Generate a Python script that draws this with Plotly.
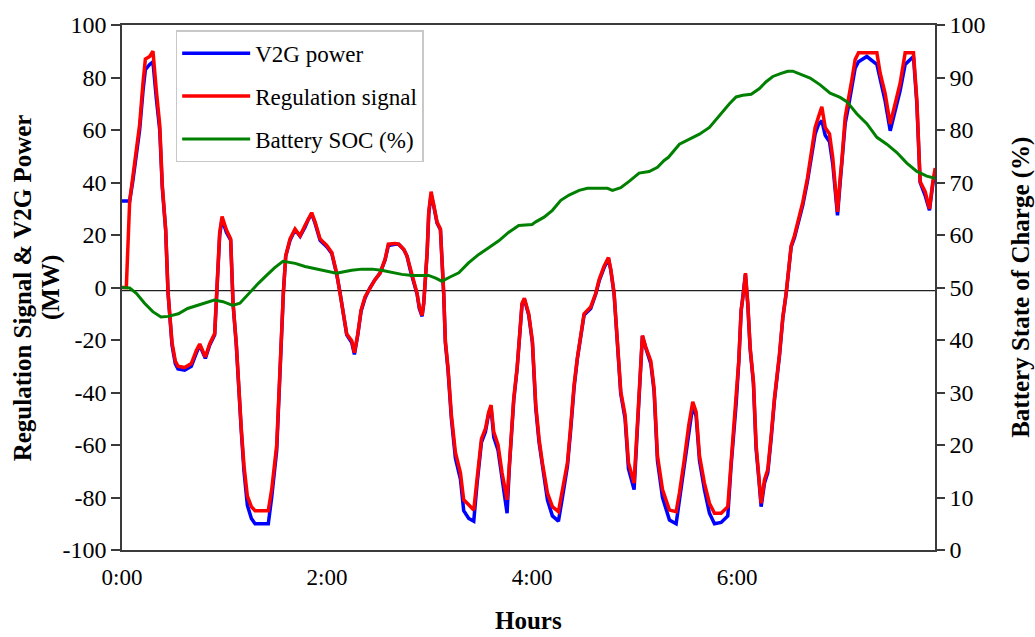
import plotly.graph_objects as go

# ---- data (hours, MW) ----
hours = [0.000, 0.042, 0.075, 0.107, 0.140, 0.172, 0.205, 0.228, 0.270, 0.302, 0.335, 0.368, 0.393, 0.426,
         0.449, 0.465, 0.488, 0.520, 0.546, 0.611, 0.676, 0.725, 0.758, 0.813, 0.855, 0.904, 0.920, 0.953,
         0.976, 1.018, 1.060, 1.083, 1.115, 1.141, 1.164, 1.190, 1.223, 1.262, 1.298, 1.427, 1.460, 1.509,
         1.541, 1.574, 1.597, 1.639, 1.688, 1.737, 1.785, 1.818, 1.850, 1.883, 1.932, 1.997, 2.046, 2.094,
         2.127, 2.159, 2.192, 2.241, 2.267, 2.300, 2.332, 2.371, 2.420, 2.468, 2.517, 2.566, 2.598, 2.663,
         2.699, 2.748, 2.780, 2.813, 2.846, 2.878, 2.900, 2.927, 2.943, 2.959, 2.976, 2.992, 3.015, 3.041,
         3.073, 3.106, 3.122, 3.138, 3.154, 3.180, 3.213, 3.252, 3.301, 3.333, 3.382, 3.431, 3.463, 3.506,
         3.545, 3.577, 3.600, 3.626, 3.668, 3.707, 3.756, 3.779, 3.821, 3.854, 3.876, 3.902, 3.925, 3.967,
         4.003, 4.036, 4.068, 4.100, 4.150, 4.198, 4.257, 4.296, 4.345, 4.377, 4.410, 4.442, 4.475, 4.507,
         4.572, 4.621, 4.654, 4.702, 4.745, 4.768, 4.800, 4.833, 4.865, 4.907, 4.940, 4.995, 5.028, 5.054,
         5.076, 5.109, 5.158, 5.190, 5.223, 5.272, 5.307, 5.340, 5.405, 5.437, 5.485, 5.528, 5.567, 5.600,
         5.633, 5.681, 5.730, 5.779, 5.844, 5.909, 5.941, 5.990, 6.016, 6.039, 6.062, 6.081, 6.104, 6.127,
         6.159, 6.185, 6.211, 6.234, 6.267, 6.299, 6.332, 6.364, 6.413, 6.446, 6.478, 6.504, 6.527, 6.559,
         6.592, 6.641, 6.686, 6.728, 6.761, 6.793, 6.826, 6.859, 6.901, 6.933, 6.956, 6.979, 7.005, 7.021,
         7.054, 7.086, 7.119, 7.151, 7.184, 7.265, 7.363, 7.395, 7.444, 7.493, 7.541, 7.590, 7.639, 7.720,
         7.753, 7.785, 7.834, 7.876, 7.909, 7.932]

regulation_signal = [0, 0, 33, 42, 51, 62, 78, 87, 88, 90, 75, 62, 39, 22,
                     -2, -9, -21, -28, -30, -30.5, -29, -24, -21.5, -26.5, -21.5, -17.5, -6, 21,
                     27, 22, 18.5, -6, -21.5, -40, -54, -68, -79.5, -83.5, -85, -85, -77, -60,
                     -28, -2, 12, 18.5, 22.3, 19.7, 23.6, 26.2, 28.5, 25, 18.5, 16, 13.3, 5.5,
                     -2, -11, -17.7, -20.3, -24.8, -17.7, -8.6, -3.5, 0, 3, 5.5, 10.7, 16.5, 16.8,
                     16.5, 14.6, 12, 6.8, 1.7, -2.2, -7.4, -10.6, -6, 1.7, 13.3, 28.8, 36.5, 31.4,
                     24.9, 22.3, 10.7, -2.2, -20.3, -30.6, -48.6, -62.8, -70.6, -80.9, -82.8, -84.8, -73, -57.7,
                     -53.8, -47.4, -44.8, -55, -60, -70.6, -80.9, -66.7, -42.2, -30.6, -20.3, -6, -4.1, -10,
                     -20.3, -44.8, -57.7, -66.7, -78.3, -83.5, -85.4, -77, -66.7, -52.5, -37, -26.7, -17.7, -10,
                     -7.4, -2.2, 3, 8.1, 11.4, 6.8, -2.2, -21.5, -39.6, -48.6, -66.7, -74.5, -52.5, -30.6,
                     -18.3, -22.8, -28, -38.3, -64.1, -77, -81, -84.8, -85.4, -78.3, -65.4, -52.5, -43.5, -47.4,
                     -64.1, -74.5, -82.2, -86, -86, -83.5, -66.7, -43.5, -28, -8.6, -2.2, 5.5, -6, -22.8,
                     -35.7, -60, -70.6, -82.2, -73.2, -69.3, -56.4, -42.2, -25.4, -11.2, -2.2, 6.8, 15.9, 19.7,
                     24.9, 32.6, 41.7, 53.3, 61, 64.9, 68.8, 61, 58.5, 49.4, 40.4, 28.8, 41.7, 48.1,
                     64.9, 71.4, 79.1, 86.8, 89.4, 89.4, 89.4, 81.7, 73.9, 62.3, 70, 77.8, 89.4, 89.4,
                     71.4, 40.4, 36.5, 30, 40.4, 45.5]

v2g_power = [33, 33, 33, 41, 50, 60, 75, 83, 85, 86, 72, 60, 38, 22,
             -2, -9, -22, -29, -31, -31.5, -30, -25, -22, -27, -22, -18, -6, 20,
             26, 21, 18, -6, -22, -41, -55, -70, -83, -88, -90, -90, -80, -62,
             -28, -2, 12, 18, 22, 19.5, 23, 26, 28, 24.5, 18, 15.5, 13, 5,
             -2, -11, -18, -21, -25.5, -18, -9, -4, 0, 3, 5.5, 10.5, 16, 16.5,
             16.5, 14.5, 12, 6.5, 1.5, -2.5, -8, -11, -6, 1.5, 13, 28, 35.5, 31,
             24.5, 22, 10.5, -2.5, -21, -31.5, -50, -65, -73, -85, -88, -89, -75, -59,
             -55, -48, -46, -57, -62, -73, -86, -68, -43, -31, -21, -6.5, -4.5, -10.5,
             -21, -46, -59, -68, -81, -87, -89, -80, -68, -54, -38, -27, -18, -10.5,
             -8, -2.5, 2.5, 7.5, 11, 6.5, -2.5, -22, -40.5, -50, -69, -77, -54, -31,
             -18.5, -23, -29, -39.5, -66, -80, -85, -88.6, -90, -81, -67, -54, -45, -49,
             -66, -77, -86, -90, -89.5, -87, -68, -44.5, -28.5, -9, -2.5, 5, -6.5, -23.5,
             -36.5, -61.5, -72.5, -83.5, -74.5, -70.5, -57.5, -43, -26, -11.5, -2.5, 6.5, 15.5, 19,
             24, 31.5, 40.5, 51.5, 58.5, 62, 63.6, 58, 55.5, 47, 38.5, 27.5, 40, 46.5,
             62.5, 69, 76.5, 83.5, 86, 88, 85, 79, 71, 59.7, 67.5, 75, 85, 88,
             70, 40, 35, 29.4, 39.5, 44]

soc_hours = [0.00, 0.075, 0.14, 0.22, 0.30, 0.38, 0.45, 0.55, 0.64, 0.74, 0.84, 0.90, 0.985, 1.08,
             1.15, 1.25, 1.33, 1.41, 1.49, 1.57, 1.69, 1.785, 1.88, 1.98, 2.09, 2.14, 2.24, 2.34,
             2.44, 2.53, 2.634, 2.73, 2.83, 2.99, 3.06, 3.12, 3.20, 3.285, 3.38, 3.48, 3.58, 3.675,
             3.77, 3.87, 3.935, 4.00, 4.036, 4.117, 4.198, 4.28, 4.361, 4.459, 4.54, 4.654, 4.735, 4.784,
             4.865, 4.946, 5.044, 5.142, 5.223, 5.288, 5.33, 5.437, 5.535, 5.632, 5.73, 5.827, 5.925, 5.99,
             6.055, 6.137, 6.218, 6.283, 6.348, 6.429, 6.494, 6.543, 6.608, 6.673, 6.712, 6.81, 6.907, 7.005,
             7.07, 7.167, 7.265, 7.363, 7.46, 7.558, 7.655, 7.753, 7.85, 7.932]

battery_soc = [50.0, 49.9, 48.9, 47.0, 45.4, 44.4, 44.5, 45.0, 46.0, 46.6, 47.3, 47.6, 47.3, 46.6,
               47.0, 49.2, 50.8, 52.3, 53.8, 55.0, 54.6, 54.0, 53.6, 53.2, 52.7, 52.9, 53.3, 53.5,
               53.5, 53.3, 52.9, 52.5, 52.3, 52.3, 51.8, 51.2, 52.0, 52.8, 54.7, 56.3, 57.6, 58.9,
               60.5, 61.8, 61.9, 62.0, 62.5, 63.4, 64.7, 66.6, 67.6, 68.5, 68.9, 68.9, 68.9, 68.5,
               69.0, 70.2, 71.8, 72.1, 72.9, 74.2, 74.8, 77.3, 78.3, 79.2, 80.5, 82.8, 85.0, 86.3,
               86.6, 86.8, 87.9, 89.2, 90.2, 90.8, 91.2, 91.2, 90.7, 90.3, 89.9, 88.6, 87.0, 86.2,
               85.4, 83.1, 81.2, 78.6, 77.3, 75.7, 73.7, 72.1, 71.2, 70.8]

x_tick_vals = [0, 2, 4, 6]
x_tick_text = ["0:00", "2:00", "4:00", "6:00"]
left_tick_vals = [-100, -80, -60, -40, -20, 0, 20, 40, 60, 80, 100]
left_tick_text = ["-100", "-80", "-60", "-40", "-20", "0", "20", "40", "60", "80", "100"]

SERIF = "Liberation Serif"
AXC = "#3a3a3a"

fig = go.Figure()
fig.add_trace(go.Scatter(x=hours, y=v2g_power, mode="lines", name="V2G power",
                         line=dict(color="#0000ff", width=3.5), legendgroup="a"))
fig.add_trace(go.Scatter(x=hours, y=regulation_signal, mode="lines", name="Regulation signal",
                         line=dict(color="#ff0000", width=3.5), legendgroup="b"))
fig.add_trace(go.Scatter(x=soc_hours, y=battery_soc, mode="lines", name="Battery SOC (%)",
                         line=dict(color="#008000", width=3), yaxis="y2", legendgroup="c"))

fig.add_shape(type="line", xref="paper", x0=0, x1=1, yref="y", y0=-1.2, y1=-1.2,
              line=dict(color="#202020", width=1.2), layer="below")

fig.update_layout(
    width=1035, height=637,
    margin=dict(l=122, r=100, t=19, b=87),
    paper_bgcolor="white", plot_bgcolor="white",
    font=dict(family=SERIF, size=23, color="black"),
    showlegend=True,
    legend=dict(x=0.066, y=0.99, xanchor="left", yanchor="top",
                bgcolor="white", bordercolor="#c8c8c8", borderwidth=1.5,
                font=dict(family=SERIF, size=23, color="black"),
                itemwidth=68,
                tracegroupgap=10, traceorder="grouped"),
    xaxis=dict(range=[0, 7.93], tickvals=x_tick_vals, ticktext=x_tick_text,
               showline=True, linecolor=AXC, linewidth=1.5, mirror=True,
               ticks="outside", ticklen=6, tickcolor="rgba(0,0,0,0)",
               showgrid=False, zeroline=False,
               tickfont=dict(family=SERIF, size=23)),
    yaxis=dict(range=[-100, 100], tickvals=left_tick_vals, ticktext=left_tick_text,
               showline=True, linecolor=AXC, linewidth=1.5,
               ticks="outside", ticklen=9, tickcolor=AXC, tickwidth=1.5,
               showgrid=False, zeroline=False, tickfont=dict(family=SERIF, size=24)),
    yaxis2=dict(range=[0, 100], dtick=10, overlaying="y", side="right",
                showline=True, linecolor=AXC, linewidth=1.5,
                ticks="outside", ticklen=8, tickcolor=AXC, tickwidth=1.5,
                showgrid=False, zeroline=False, tickfont=dict(family=SERIF, size=24)),
    annotations=[
        dict(text="<b>Regulation Signal & V2G Power</b>", xref="paper", yref="paper",
             x=-0.122, y=0.5, xanchor="center", yanchor="middle", textangle=-90,
             showarrow=False, font=dict(family=SERIF, size=25)),
        dict(text="<b>(MW)</b>", xref="paper", yref="paper",
             x=-0.088, y=0.5, xanchor="center", yanchor="middle", textangle=-90,
             showarrow=False, font=dict(family=SERIF, size=25)),
        dict(text="<b>Battery State of Charge (%)</b>", xref="paper", yref="paper",
             x=1.105, y=0.5, xanchor="center", yanchor="middle", textangle=-90,
             showarrow=False, font=dict(family=SERIF, size=25)),
        dict(text="<b>Hours</b>", xref="paper", yref="paper",
             x=0.5, y=-0.135, xanchor="center", yanchor="middle",
             showarrow=False, font=dict(family=SERIF, size=25)),
    ],
)

fig.write_html("out.html")
